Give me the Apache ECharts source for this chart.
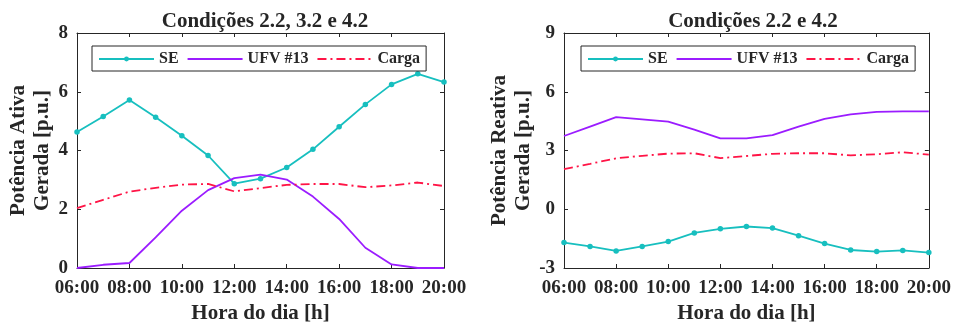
<!DOCTYPE html>
<html>
<head>
<meta charset="utf-8">
<script src="https://cdn.jsdelivr.net/npm/echarts@6/dist/echarts.min.js"></script>
<style>
  html, body { margin: 0; padding: 0; background: #fff; }
  #chart { width: 954px; height: 329px; }
</style>
</head>
<body>
<div id="chart"></div>
<script>
// Hours of the day (x values)
const hours = [6, 7, 8, 9, 10, 11, 12, 13, 14, 15, 16, 17, 18, 19, 20];

// Active power generated [p.u.]
const seActive   = [4.63, 5.16, 5.72, 5.13, 4.50, 3.83, 2.87, 3.04, 3.42, 4.04, 4.81, 5.57, 6.25, 6.61, 6.33];
const ufvActive  = [0.00, 0.11, 0.17, 1.04, 1.95, 2.65, 3.06, 3.18, 3.01, 2.43, 1.67, 0.69, 0.12, 0.00, 0.00];
const loadActive = [2.04, 2.32, 2.60, 2.73, 2.84, 2.86, 2.61, 2.72, 2.83, 2.86, 2.86, 2.75, 2.81, 2.91, 2.79];

// Reactive power generated [p.u.]
const seReactive   = [-1.70, -1.90, -2.13, -1.90, -1.65, -1.21, -1.00, -0.88, -0.96, -1.35, -1.75, -2.08, -2.16, -2.10, -2.21];
const ufvReactive  = [3.74, 4.22, 4.70, 4.59, 4.47, 4.07, 3.62, 3.62, 3.79, 4.22, 4.62, 4.84, 4.97, 5.00, 5.00];
const loadReactive = [2.05, 2.32, 2.60, 2.73, 2.84, 2.86, 2.61, 2.72, 2.83, 2.86, 2.86, 2.75, 2.81, 2.91, 2.79];

// Axis ticks
const xTicks = { min: 6, max: 20, interval: 2 };
const yActiveTicks = { min: 0, max: 8, interval: 2 };
const yReactiveTicks = { min: -3, max: 9, interval: 3 };

const FONT = 'Liberation Serif';
const INK = '#262626';
const C_SE = '#17BFBF';
const C_UFV = '#9B1CFF';
const C_LOAD = '#FF1446';
const LW = 1.8;

const pairs = (vals) => hours.map((h, i) => [h, vals[i]]);
const hhmm = (v) => (v < 10 ? '0' : '') + v + ':00';

function xAxes(gridIndex) {
  const base = {
    type: 'value', gridIndex, min: xTicks.min, max: xTicks.max, interval: xTicks.interval,
    splitLine: { show: false },
    axisLine: { show: true, onZero: false, lineStyle: { color: INK, width: 1 } },
    axisTick: { show: true, inside: true, length: 4, lineStyle: { color: INK } }
  };
  return [
    Object.assign({}, base, {
      position: 'bottom',
      name: 'Hora do dia [h]', nameLocation: 'middle', nameGap: 35,
      nameTextStyle: { fontFamily: FONT, fontWeight: 'bold', fontSize: 21, color: INK },
      axisLabel: { fontFamily: FONT, fontWeight: 'bold', fontSize: 19, color: INK, margin: 11, formatter: hhmm }
    }),
    Object.assign({}, base, { position: 'top', axisLabel: { show: false } })
  ];
}

function yAxes(gridIndex, ticks, name) {
  const base = {
    type: 'value', gridIndex, min: ticks.min, max: ticks.max, interval: ticks.interval,
    splitLine: { show: false },
    axisLine: { show: true, onZero: false, lineStyle: { color: INK, width: 1 } },
    axisTick: { show: true, inside: true, length: 4, lineStyle: { color: INK } }
  };
  return [
    Object.assign({}, base, {
      position: 'left',
      name, nameLocation: 'middle', nameGap: 20,
      nameTextStyle: { fontFamily: FONT, fontWeight: 'bold', fontSize: 21, color: INK, lineHeight: 24 },
      axisLabel: { fontFamily: FONT, fontWeight: 'bold', fontSize: 19, color: INK, margin: 9 }
    }),
    Object.assign({}, base, { position: 'right', axisLabel: { show: false } })
  ];
}

function seriesFor(xIdx, yIdx, se, ufv, load) {
  return [
    {
      name: 'SE', type: 'line', xAxisIndex: xIdx, yAxisIndex: yIdx, data: pairs(se),
      symbol: 'circle', symbolSize: 5.5, showSymbol: true,
      lineStyle: { color: C_SE, width: LW }, itemStyle: { color: C_SE }
    },
    {
      name: 'UFV #13', type: 'line', xAxisIndex: xIdx, yAxisIndex: yIdx, data: pairs(ufv),
      symbol: 'none',
      lineStyle: { color: C_UFV, width: LW }, itemStyle: { color: C_UFV }
    },
    {
      name: 'Carga', type: 'line', xAxisIndex: xIdx, yAxisIndex: yIdx, data: pairs(load),
      symbol: 'none',
      lineStyle: { color: C_LOAD, width: LW, type: [9, 4, 2, 4] }, itemStyle: { color: C_LOAD }
    }
  ];
}

function legendAt(left) {
  return {
    left, top: 46,
    data: [
      { name: 'SE' },
      { name: 'UFV #13', itemStyle: { opacity: 0 } },
      { name: 'Carga', itemStyle: { opacity: 0 } }
    ],
    backgroundColor: '#fff', borderColor: INK, borderWidth: 1, borderRadius: 0,
    padding: [5, 6, 4, 6], itemGap: 8, itemWidth: 55, itemHeight: 6,
    textStyle: { fontFamily: FONT, fontWeight: 'bold', fontSize: 16, color: INK }
  };
}

const chart = echarts.init(document.getElementById('chart'), null, { renderer: 'canvas' });
chart.setOption({
  animation: false,
  backgroundColor: '#fff',
  title: [
    { text: 'Condições 2.2, 3.2 e 4.2', left: 260, top: 6, textAlign: 'center',
      textStyle: { fontFamily: FONT, fontWeight: 'bold', fontSize: 21, color: INK } },
    { text: 'Condições 2.2 e 4.2', left: 748, top: 6, textAlign: 'center',
      textStyle: { fontFamily: FONT, fontWeight: 'bold', fontSize: 21, color: INK } }
  ],
  legend: [legendAt(92), legendAt(581)],
  grid: [
    { left: 77, right: 510, top: 33, bottom: 56, containLabel: false },
    { left: 564, right: 22, top: 33, bottom: 56, containLabel: false }
  ],
  xAxis: [].concat(xAxes(0), xAxes(1)),
  yAxis: [].concat(
    yAxes(0, yActiveTicks, 'Potência Ativa\nGerada [p.u.]'),
    yAxes(1, yReactiveTicks, 'Potência Reativa\nGerada [p.u.]')
  ),
  series: [].concat(
    seriesFor(0, 0, seActive, ufvActive, loadActive),
    seriesFor(2, 2, seReactive, ufvReactive, loadReactive)
  )
});
</script>
</body>
</html>
